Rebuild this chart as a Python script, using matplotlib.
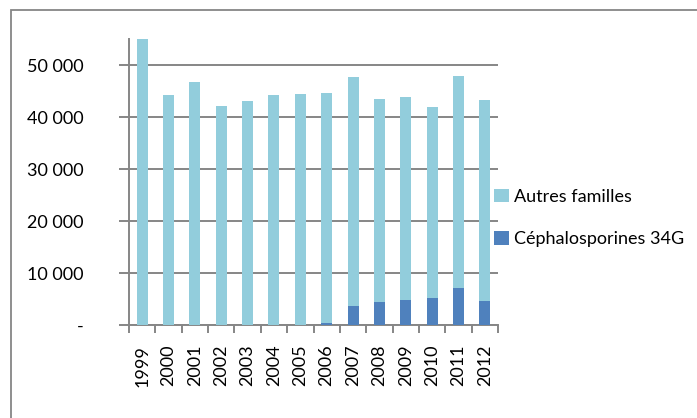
import matplotlib.pyplot as plt
import numpy as np
from matplotlib.patches import Rectangle
from matplotlib.ticker import FuncFormatter, FixedLocator

plt.rcParams["font.family"] = ["Lato", "DejaVu Sans"]

years = ["1999", "2000", "2001", "2002", "2003", "2004", "2005",
         "2006", "2007", "2008", "2009", "2010", "2011", "2012"]
ceph = [0, 0, 0, 0, 0, 0, 0, 500, 3700, 4400, 4800, 5300, 7100, 4700]
totals = [55000, 44200, 46700, 42200, 43000, 44200, 44400,
          44700, 47700, 43400, 43800, 42000, 47800, 43300]
autres = [t - c for t, c in zip(totals, ceph)]

C_AUTRES = "#92CDDC"
C_CEPH = "#4F81BD"
C_GRID = "#868686"

fig = plt.figure(figsize=(6.97, 4.18), dpi=100)
ax = fig.add_axes([129 / 697, 1 - 325.3 / 418, 369 / 697, 286.3 / 418])

# outer chart frame
fig.patches.append(Rectangle((11 / 697, -0.1), 0.99, 1 - 10 / 418 + 0.1,
                             transform=fig.transFigure, fill=False,
                             edgecolor=C_GRID, lw=1.3))

x = np.arange(len(years))
w = 0.42
ax.bar(x, ceph, w, color=C_CEPH, label="Céphalosporines 34G", zorder=3)
ax.bar(x, autres, w, bottom=ceph, color=C_AUTRES, label="Autres familles", zorder=3)

ax.set_xlim(-0.5, len(years) - 0.5)
ax.set_ylim(0, 55000)
ax.set_yticks(np.arange(0, 50001, 10000))
ax.yaxis.set_major_formatter(FuncFormatter(
    lambda v, p: "-" if v == 0 else f"{int(v):,}".replace(",", " ")))
ax.yaxis.grid(True, color=C_GRID, lw=1.4, zorder=0)
ax.tick_params(axis="y", length=7, width=1.4, color=C_GRID, labelsize=13, pad=26)

ax.set_xticks(x)
ax.set_xticklabels(years, rotation=90, fontsize=13)
ax.xaxis.set_minor_locator(FixedLocator(np.arange(-0.5, len(years), 1)))
ax.tick_params(axis="x", which="major", length=0, pad=14)
ax.tick_params(axis="x", which="minor", length=6, width=1.4, color=C_GRID)

for s in ("top", "right"):
    ax.spines[s].set_visible(False)
for s in ("left", "bottom"):
    ax.spines[s].set_color(C_GRID)
    ax.spines[s].set_linewidth(1.4)

handles, labels = ax.get_legend_handles_labels()
ax.legend(handles[::-1], labels[::-1], loc="center left",
          bbox_to_anchor=(0.97, 0.375), frameon=False, fontsize=13,
          handlelength=0.8, handleheight=0.8, handletextpad=0.3,
          labelspacing=1.45, borderaxespad=0)

fig.savefig("out.png", dpi=100)
